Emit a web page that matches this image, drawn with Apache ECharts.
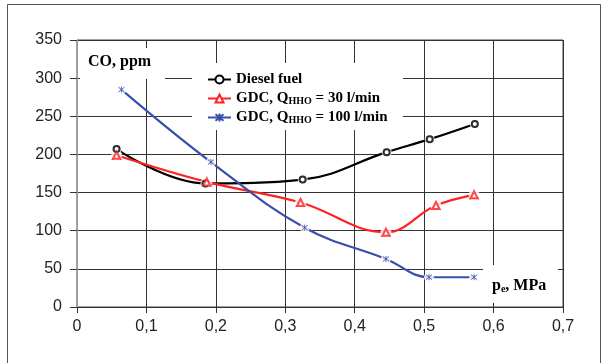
<!DOCTYPE html>
<html>
<head>
<meta charset="utf-8">
<script src="https://cdn.jsdelivr.net/npm/echarts@6/dist/echarts.min.js"></script>
<style>
  html, body { margin: 0; padding: 0; background: #fff; }
  #chart { width: 608px; height: 363px; }
</style>
</head>
<body>
<div id="chart"></div>
<script>
// values
var peDiesel = [0.057, 0.185, 0.325, 0.446, 0.508, 0.573];
var coDiesel = [207, 162, 167, 203, 220, 240];
var pe30 = [0.057, 0.187, 0.322, 0.445, 0.517, 0.572];
var co30 = [199, 164, 137, 98, 133, 147];
var pe100 = [0.064, 0.193, 0.328, 0.445, 0.507, 0.572];
var co100 = [285, 190, 104, 63, 39, 39];
var xTicks = [0, 0.1, 0.2, 0.3, 0.4, 0.5, 0.6, 0.7];

var names = ['Diesel fuel', 'GDC, QHHO = 30 l/min', 'GDC, QHHO = 100 l/min'];
var star = 'path://M-4,-4L4,4M-4,4L4,-4M0,-5L0,5';

function pairs(xs, ys) {
  return xs.map(function (x, i) { return [x, ys[i]]; });
}

var chart = echarts.init(document.getElementById('chart'));

// one entry per curve: line + white halo + marker on top
var defs = [
  { name: names[0], data: pairs(peDiesel, coDiesel), color: '#000000', symbol: 'emptyCircle', size: 6 },
  { name: names[1], data: pairs(pe30, co30), color: '#ff2222', symbol: 'emptyTriangle', size: 7 },
  { name: names[2], data: pairs(pe100, co100), color: '#3a4fab', symbol: star, size: 6 }
];

var series = [];
defs.forEach(function (d) {
  series.push({
    name: d.name, type: 'line', smooth: 0.4, data: d.data, z: 2,
    symbol: d.symbol, symbolSize: d.size,
    lineStyle: { color: d.color, width: 2.2 },
    itemStyle: { color: d.color, borderColor: d.color, borderWidth: 1 }
  });
  series.push({
    type: 'scatter', data: d.data, z: 3, silent: true,
    symbol: 'circle', symbolSize: d.size + 4,
    itemStyle: { color: '#fff' }
  });
  series.push({
    type: 'scatter', data: d.data, z: 4, silent: true,
    symbol: d.symbol, symbolSize: d.size,
    itemStyle: { color: d.color, borderColor: d.color, borderWidth: 1 }
  });
});

var option = {
  animation: false,
  grid: { left: 77, top: 40, width: 486, height: 267, show: true, borderColor: '#444', borderWidth: 1 },
  legend: {
    data: names,
    orient: 'vertical',
    left: 202, top: 67,
    itemWidth: 23, itemHeight: 10, itemGap: 4,
    textStyle: {
      fontFamily: 'Liberation Serif', fontWeight: 'bold', fontSize: 15, color: '#000',
      rich: {
        sub: { fontFamily: 'Liberation Serif', fontWeight: 'bold', fontSize: 10, padding: [5, 0, 0, 0] }
      }
    },
    formatter: function (n) { return n.replace('QHHO', 'Q{sub|HHO}'); }
  },
  xAxis: {
    type: 'value', min: 0, max: 0.7, interval: 0.1,
    axisLine: { lineStyle: { color: '#333' } },
    axisTick: { show: true, length: 6, lineStyle: { color: '#333' } },
    splitLine: { lineStyle: { color: '#333' } },
    axisLabel: {
      margin: 12, fontFamily: 'Liberation Sans', fontSize: 16, color: '#222',
      formatter: function (v) { return xTicks.indexOf(v) >= 0 && v !== 0 ? v.toFixed(1).replace('.', ',') : String(v); }
    }
  },
  yAxis: {
    type: 'value', min: 0, max: 350, interval: 50,
    axisLine: { show: true, lineStyle: { color: '#999' } },
    axisTick: { show: true, length: 7, lineStyle: { color: '#333' } },
    splitLine: { lineStyle: { color: '#333' } },
    axisLabel: { margin: 15, fontFamily: 'Liberation Sans', fontSize: 16, color: '#222' }
  },
  graphic: [
    { type: 'rect', shape: { x: 7.5, y: 4.5, width: 593, height: 380 }, style: { fill: 'none', stroke: '#555', lineWidth: 1 }, z: 0 },
    { type: 'rect', shape: { x: 80, y: 48, width: 85, height: 31 }, style: { fill: '#fff' }, z: 1 },
    { type: 'rect', shape: { x: 192, y: 63, width: 211, height: 67 }, style: { fill: '#fff' }, z: 1 },
    { type: 'rect', shape: { x: 483, y: 265, width: 75, height: 38 }, style: { fill: '#fff' }, z: 1 },
    { type: 'text', left: 88, top: 54, z: 5,
      style: { text: 'CO, ppm', font: 'bold 16px "Liberation Serif"', fill: '#000' } },
    { type: 'text', left: 492, top: 278, z: 5,
      style: {
        text: '{a|p}{s|e}{a|, MPa}',
        rich: {
          a: { font: 'bold 16px "Liberation Serif"', fill: '#000' },
          s: { font: 'bold 10px "Liberation Serif"', fill: '#000', padding: [7, 0, 0, 0] }
        }
      } }
  ],
  series: series
};

chart.setOption(option);
</script>
</body>
</html>
